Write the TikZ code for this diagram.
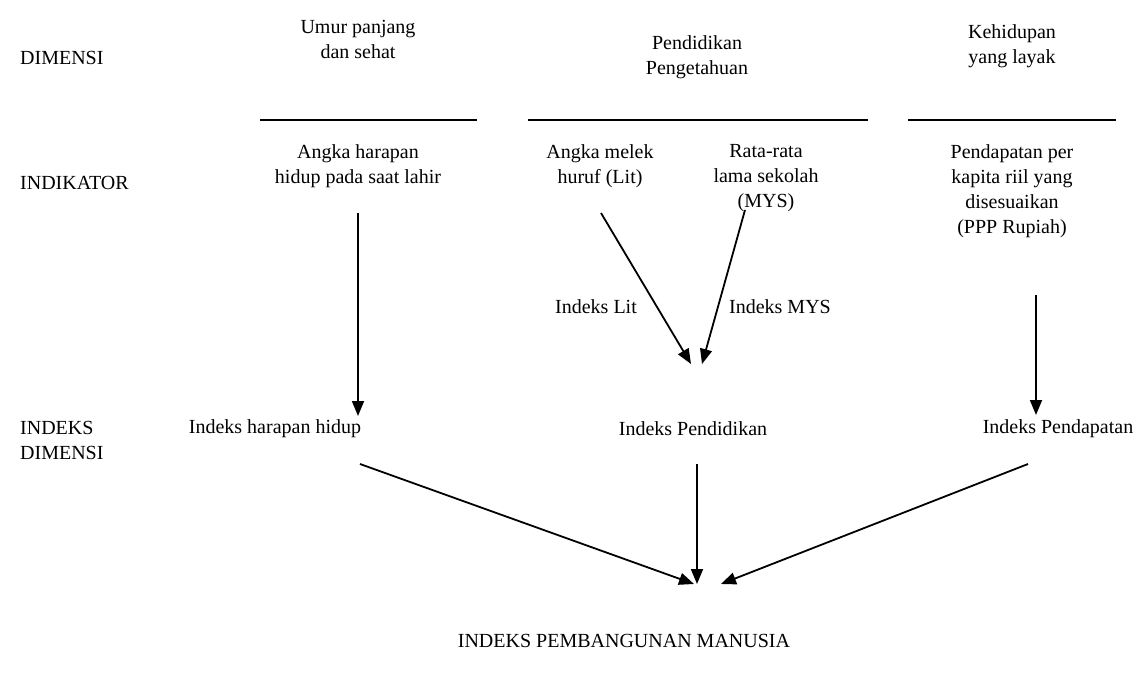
\documentclass[tikz,border=0pt]{standalone}
\usepackage{fontspec}
\setmainfont{Liberation Serif}
\usetikzlibrary{arrows.meta}
\tikzset{
  txt/.style={align=center,font=\fontsize{20}{25}\selectfont,inner sep=0pt},
  rowname/.style={txt,anchor=west,align=left},
  flow/.style={-{Triangle[length=15pt,width=12pt]},line width=1.8pt},
  rulebar/.style={line width=1.4pt}
}

\begin{document}
\begin{tikzpicture}[x=1pt,y=-1pt]
  \useasboundingbox (0,0) rectangle (1141,682);
  % row names
  \node[rowname] (dimensi) at (20,58) {DIMENSI};
  \node[rowname] (indikator) at (20,183) {INDIKATOR};
  \node[rowname] (indeksdim) at (20,440) {INDEKS\\DIMENSI};
  % dimensions
  \node[txt] (umur) at (358,39) {Umur panjang\\dan sehat};
  \node[txt] (didik) at (697,57) {Pendidikan\\Pengetahuan};
  \node[txt] (layak) at (1012,46) {Kehidupan\\yang layak};
  \draw[rulebar] (260,120) -- (477,120);
  \draw[rulebar] (528,120) -- (868,120);
  \draw[rulebar] (908,120) -- (1116,120);
  % indicators
  \node[txt] (ahh) at (358,166) {Angka harapan\\hidup pada saat lahir};
  \node[txt] (lit) at (600,166) {Angka melek\\huruf (Lit)};
  \node[txt] (mys) at (766,178) {Rata-rata\\lama sekolah\\(MYS)};
  \node[txt] (ppp) at (1012,191) {Pendapatan per\\kapita riil yang\\disesuaikan\\(PPP Rupiah)};
  \node[txt] (ilit) at (596,307) {Indeks Lit};
  \node[txt] (imys) at (780,307) {Indeks MYS};
  % dimension indices
  \node[txt] (ihh) at (275,429) {Indeks harapan hidup};
  \node[txt] (ipend) at (693,429) {Indeks Pendidikan};
  \node[txt] (ipdp) at (1058,429) {Indeks Pendapatan};
  \node[txt] (ipm) at (624,641) {INDEKS PEMBANGUNAN MANUSIA};
  % arrow ends
  \coordinate (ahh-out) at (358,213);
  \coordinate (ihh-in) at (358,416);
  \coordinate (lit-out) at (601,213);
  \coordinate (ipend-in1) at (691,364);
  \coordinate (mys-out) at (745,210);
  \coordinate (ipend-in2) at (702,364);
  \coordinate (ppp-out) at (1036,295);
  \coordinate (ipdp-in) at (1036,415);
  \coordinate (ihh-out) at (360,464);
  \coordinate (ipend-out) at (697,464);
  \coordinate (ipdp-out) at (1028,464);
  \coordinate (ipm-in1) at (694,584);
  \coordinate (ipm-in2) at (697,584);
  \coordinate (ipm-in3) at (721,584);
  \draw[flow] (ahh-out) -- (ihh-in);
  \draw[flow] (lit-out) -- (ipend-in1);
  \draw[flow] (mys-out) -- (ipend-in2);
  \draw[flow] (ppp-out) -- (ipdp-in);
  \draw[flow] (ihh-out) -- (ipm-in1);
  \draw[flow] (ipend-out) -- (ipm-in2);
  \draw[flow] (ipdp-out) -- (ipm-in3);
\end{tikzpicture}
\end{document}
